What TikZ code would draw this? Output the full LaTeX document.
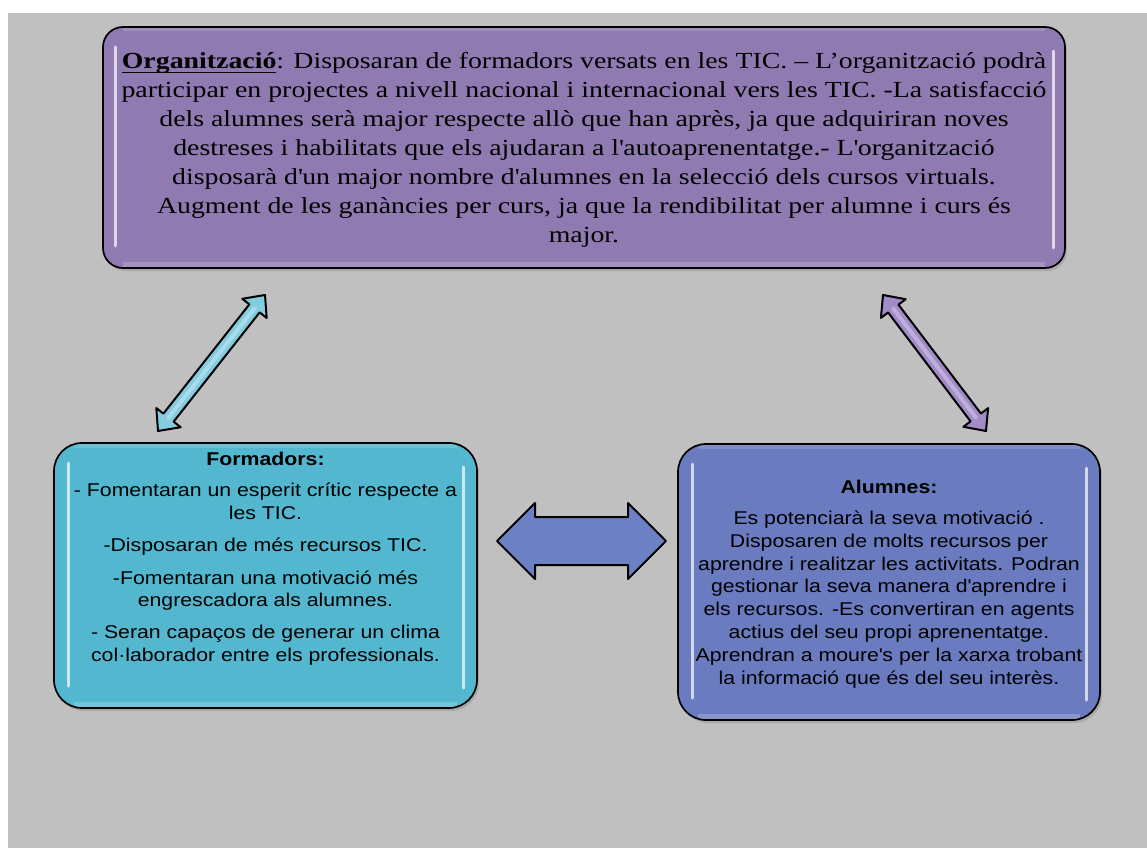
\documentclass[tikz,border=0pt]{standalone}
\usepackage{fontspec}
\newfontfamily\serifA{Liberation Serif}[FakeStretch=1.21]
\newfontfamily\sansA{Liberation Sans}[FakeStretch=1.15]
\usetikzlibrary{calc,shadows}
\definecolor{bgc}{HTML}{C0C0C0}
\definecolor{orgc}{HTML}{8F7AB1}
\definecolor{formc}{HTML}{53B7CF}
\definecolor{alumc}{HTML}{6A7BBF}
\definecolor{midc}{HTML}{6C80C4}
\definecolor{ldiag}{HTML}{84CCE0}
\definecolor{rdiag}{HTML}{A28BC9}
\newcommand\ulthick[1]{\setbox0\hbox{#1}\rlap{\raisebox{-4.5pt}{\rule{\wd0}{1.6pt}}}\box0}
\newcommand\blockarr[7]{%
  \path ($(#1)!#5!(#2)$) coordinate (ba1) ($(#2)!#5!(#1)$) coordinate (ba2);
  \draw[#6] (#1) -- ($(ba1)!#4!90:(#2)$) -- ($(ba1)!#3!90:(#2)$)
    -- ($(ba2)!#3!-90:(#1)$) -- ($(ba2)!#4!-90:(#1)$) -- (#2)
    -- ($(ba2)!#4!90:(#1)$) -- ($(ba2)!#3!90:(#1)$)
    -- ($(ba1)!#3!-90:(#2)$) -- ($(ba1)!#4!-90:(#2)$) -- cycle;
  \draw[#7] (ba1) -- (ba2);
}
\tikzset{
  boxbase/.style={draw=black,line width=1.7pt,inner sep=0pt,
    drop shadow={shadow xshift=2pt,shadow yshift=-3pt,opacity=.35}},
  gloss/.style={path picture={
    \draw[white,opacity=.7,line width=3pt,line cap=round]
      ([xshift=#1,yshift=-20pt]path picture bounding box.north west) --
      ([xshift=#1,yshift=22pt]path picture bounding box.south west);
    \draw[white,opacity=.7,line width=3pt,line cap=round]
      ([xshift=-#1,yshift=-24pt]path picture bounding box.north east) --
      ([xshift=-#1,yshift=20pt]path picture bounding box.south east);
    \draw[white,opacity=.2,line width=6pt]
      ([xshift=20pt,yshift=3pt]path picture bounding box.south west) --
      ([xshift=-20pt,yshift=3pt]path picture bounding box.south east);
    \draw[white,opacity=.15,line width=5pt]
      ([xshift=20pt,yshift=-2pt]path picture bounding box.north west) --
      ([xshift=-20pt,yshift=-2pt]path picture bounding box.north east);
  }},
  arrline/.style={draw=black,line width=2pt,line join=round},
  shine/.style={white,opacity=.3,line width=4pt,line cap=round},
  noshine/.style={draw=none},
  txt/.style={inner sep=0pt,align=center,anchor=north},
}
\begin{document}
\begin{tikzpicture}[x=1pt,y=-1pt]
\useasboundingbox (0,0) rectangle (1147,848);
\fill[white] (0,0) rectangle (1147,848);
\fill[bgc] (8,13) rectangle (1147,848);

% boxes
\node[boxbase,gloss=12pt,fill=orgc,rounded corners=20pt,minimum width=962pt,minimum height=241pt] (org) at (584,147.5) {};
\node[boxbase,gloss=14pt,fill=formc,rounded corners=28pt,minimum width=423pt,minimum height=265pt] (form) at (265.5,575.5) {};
\node[boxbase,gloss=14pt,fill=alumc,rounded corners=28pt,minimum width=422pt,minimum height=276pt] (alum) at (889,582) {};

% texts
\node[txt,font=\serifA\fontsize{23}{28.9}\selectfont] (orgtxt) at (584,52.5) {%
\ulthick{\textbf{Organització}}: Disposaran de formadors versats en les TIC. – L’organització podrà\\
participar en projectes a nivell nacional i internacional vers les TIC. -La satisfacció\\
dels alumnes serà major respecte allò que han après, ja que adquiriran noves\\
destreses i habilitats que els ajudaran a l\textquotesingle autoaprenentatge.- L\textquotesingle organització\\
disposarà d\textquotesingle un major nombre d\textquotesingle alumnes en la selecció dels cursos virtuals.\\
Augment de les ganàncies per curs, ja que la rendibilitat per alumne i curs és\\
major.};

\node[txt,font=\sansA\fontsize{18.5}{22.6}\selectfont] (formtxt) at (265.5,452) {%
\textbf{Formadors:}\\[8.5pt]
- Fomentaran un esperit crític respecte a\\
les TIC.\\[10pt]
-Disposaran de més recursos TIC.\\[9.5pt]
-Fomentaran una motivació més\\
engrescadora als alumnes.\\[9.5pt]
- Seran capaços de generar un clima\\
col·laborador entre els professionals.};

\node[txt,font=\sansA\fontsize{18.5}{22.8}\selectfont] (alumtxt) at (889,480) {%
\textbf{Alumnes:}\\[8pt]
Es potenciarà la seva motivació .\\
Disposaren de molts recursos per\\
aprendre i realitzar les activitats. Podran\\
gestionar la seva manera d\textquotesingle aprendre i\\
els recursos. -Es convertiran en agents\\
actius del seu propi aprenentatge.\\
Aprendran a moure\textquotesingle s per la xarxa trobant\\
la informació que és del seu interès.};

% arrow ends
\coordinate (la1) at (158,431);
\coordinate (la2) at (265,295);
\coordinate (ra1) at (883,295);
\coordinate (ra2) at (986,431);
\coordinate (ma1) at (497,541);
\coordinate (ma2) at (666,541);

\blockarr{la1}{la2}{6.5pt}{15.5pt}{17pt}{arrline,fill=ldiag}{shine}
\blockarr{ra1}{ra2}{6.5pt}{15.5pt}{17pt}{arrline,fill=rdiag}{shine}
\blockarr{ma1}{ma2}{24pt}{38pt}{38pt}{arrline,fill=midc}{noshine}
\end{tikzpicture}
\end{document}
